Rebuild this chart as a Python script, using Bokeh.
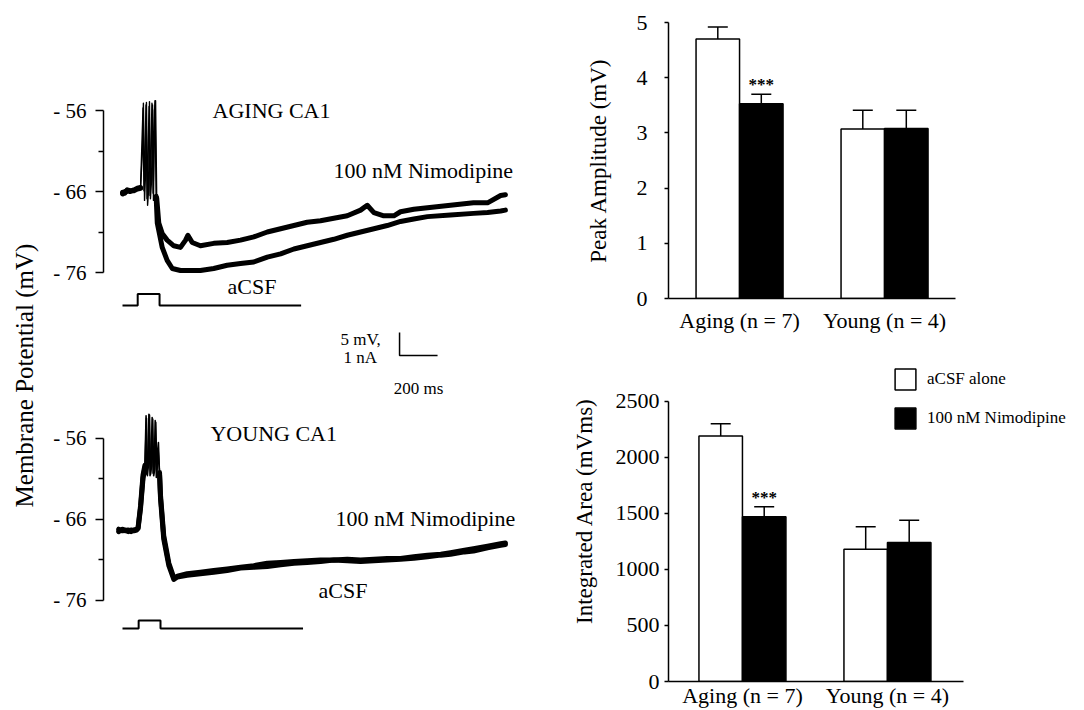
import numpy as np
from bokeh.plotting import figure
from bokeh.layouts import row, column
from bokeh.models import Range1d, FixedTicker, Legend, LegendItem
from bokeh.core.properties import value
from bokeh.embed import file_html
from bokeh.resources import INLINE

FONT = "Liberation Serif"

# ---------------- trace data (time in ms, membrane potential in mV, current in nA) ----------------
# AGING CA1
AGING_PRE_T = [0, 12, 25, 40, 60, 78, 95]
AGING_NIMO_PRE_V = [-66.3, -66.0, -65.9, -66.0, -65.8, -65.6, -65.5]
AGING_ACSF_PRE_V = [-66.1, -66.2, -65.8, -65.9, -65.9, -65.7, -65.6]

AGING_NIMO_SPK_T = [95, 105, 110, 116, 121, 126, 132, 137, 142, 147, 153, 158, 163, 168, 174, 180]
AGING_NIMO_SPK_V = [-65.5, -61.0, -55.1, -67.1, -64.0, -55.0, -67.7, -65.9, -54.9, -66.9, -64.6, -55.3,
                    -67.1, -56.0, -54.8, -66.8]
AGING_ACSF_SPK_T = [95, 108, 113, 124, 129, 140, 145, 155, 161, 171, 177]
AGING_ACSF_SPK_V = [-65.6, -55.7, -65.9, -55.3, -66.9, -55.5, -66.5, -55.1, -66.2, -54.8, -66.6]

AGING_NIMO_POST_T = [180, 191, 209, 235, 270, 305, 332, 344, 367, 410, 480, 551, 621, 691, 762, 832, 902,
                     972, 1042, 1112, 1183, 1253, 1288, 1323, 1375, 1428, 1463, 1533, 1605, 1726, 1847,
                     1921, 1990, 2015]
AGING_NIMO_POST_V = [-66.8, -69.9, -71.2, -72.0, -72.7, -72.9, -72.0, -71.4, -72.3, -72.7, -72.4, -72.3,
                     -72.0, -71.6, -71.0, -70.6, -70.2, -69.8, -69.6, -69.3, -69.0, -68.3, -67.7, -68.6,
                     -69.0, -69.0, -68.5, -68.2, -68.0, -67.7, -67.4, -67.4, -66.5, -66.4]
AGING_ACSF_POST_T = [177, 183, 209, 235, 262, 305, 410, 480, 551, 621, 691, 762, 832, 902, 972, 1042,
                     1112, 1183, 1253, 1323, 1393, 1463, 1533, 1605, 1726, 1847, 1921, 1990, 2015]
AGING_ACSF_POST_V = [-66.6, -69.9, -72.9, -74.5, -75.5, -75.75, -75.75, -75.5, -75.1, -74.9, -74.7,
                     -74.1, -73.7, -73.1, -72.7, -72.3, -71.9, -71.4, -71.0, -70.6, -70.2, -69.7, -69.4,
                     -69.1, -68.9, -68.7, -68.6, -68.4, -68.3]
AGING_CUR_T = [0, 80, 80, 195, 195, 940]
AGING_CUR_I = [0, 0, 0.5, 0.5, 0, 0]

# YOUNG CA1
YOUNG_PRE_T = [-20, 0, 15, 30, 45, 60, 75, 82, 95, 108, 118]
YOUNG_NIMO_PRE_V = [-67.5, -67.2, -67.4, -67.3, -67.5, -67.3, -67.2, -67.0, -64.3, -60.5, -59.3]
YOUNG_ACSF_PRE_V = [-67.2, -67.4, -67.3, -67.5, -67.3, -67.4, -67.3, -67.1, -64.6, -60.9, -59.6]

YOUNG_NIMO_SPK_T = [118, 124, 128, 134, 139, 145, 150, 156, 161, 167, 172, 178, 183, 189, 195]
YOUNG_NIMO_SPK_V = [-59.3, -53.2, -60.4, -59.0, -53.0, -60.6, -59.2, -53.4, -60.3, -59.5, -53.8, -60.8,
                    -58.0, -56.5, -60.5]
YOUNG_ACSF_SPK_T = [118, 126, 131, 137, 142, 148, 153, 159, 164, 170, 175, 181, 187, 195]
YOUNG_ACSF_SPK_V = [-59.6, -53.5, -60.6, -59.2, -53.1, -60.4, -59.4, -53.6, -60.6, -59.8, -54.0, -60.5,
                    -57.2, -60.2]

YOUNG_POST_T = [195, 200, 217, 244, 270, 289, 340, 410, 480, 551, 621, 691, 762, 832, 902, 972, 1042,
                1112, 1183, 1253, 1323, 1393, 1463, 1533, 1605, 1675, 1726, 1800, 1847, 1921, 1990, 2015]
YOUNG_NIMO_POST_V = [-60.5, -63.0, -68.0, -71.4, -73.2, -73.0, -72.7, -72.5, -72.3, -72.1, -71.9, -71.7,
                     -71.4, -71.3, -71.2, -71.1, -71.0, -71.0, -70.9, -71.0, -70.9, -70.8, -70.8, -70.6,
                     -70.4, -70.3, -70.1, -69.8, -69.6, -69.3, -69.0, -68.9]
YOUNG_ACSF_POST_V = [-60.2, -63.4, -68.4, -71.7, -73.4, -73.1, -72.9, -72.7, -72.5, -72.3, -72.0, -71.9,
                     -71.8, -71.6, -71.4, -71.3, -71.2, -71.0, -71.1, -71.2, -71.1, -71.0, -70.9, -70.8,
                     -70.6, -70.4, -70.3, -70.0, -69.9, -69.5, -69.2, -69.1]
YOUNG_CUR_T = [0, 85, 85, 200, 200, 950]
YOUNG_CUR_I = [0, 0, 0.35, 0.35, 0, 0]

TRACE_TICKS = [-76, -66, -56]
TRACE_MINOR = [-71, -61]
TRACE_LABELS = {-56: "- 56", -66: "- 66", -76: "- 76"}

SCALE_T0, SCALE_MS, SCALE_I0, SCALE_NA = 1458, 200, -2.17, 1.0

# ---------------- bar data ----------------
GROUPS = ["Aging (n = 7)", "Young (n = 4)"]
PEAK_ACSF = np.array([4.70, 3.07])
PEAK_ACSF_ERR = np.array([0.22, 0.34])
PEAK_NIMO = np.array([3.53, 3.08])
PEAK_NIMO_ERR = np.array([0.17, 0.33])
AREA_ACSF = np.array([2190, 1180])
AREA_ACSF_ERR = np.array([110, 200])
AREA_NIMO = np.array([1470, 1240])
AREA_NIMO_ERR = np.array([90, 200])
SIG = ["***", ""]
PEAK_TICKS = [0, 1, 2, 3, 4, 5]
AREA_TICKS = [0, 500, 1000, 1500, 2000, 2500]

BAR_W = 0.30
BAR_OFF = 0.15
GX = np.arange(len(GROUPS))


def style_common(p):
    p.outline_line_color = None
    p.grid.visible = False
    p.background_fill_color = "white"
    p.border_fill_color = "white"


def trace_fig(height, yr, cur_range):
    p = figure(width=512, height=height, x_range=Range1d(-100, 2305), y_range=Range1d(*yr),
               x_axis_location=None, output_backend="svg", toolbar_location=None,
               min_border_left=55, min_border_right=0, min_border_top=0, min_border_bottom=0)
    p.extra_y_ranges = {"current": Range1d(*cur_range)}
    style_common(p)
    ax = p.yaxis[0]
    ax.ticker = FixedTicker(ticks=TRACE_TICKS, minor_ticks=TRACE_MINOR)
    ax.bounds = (-76, -56)
    ax.major_label_overrides = TRACE_LABELS
    ax.axis_line_width = 1.5
    ax.axis_line_color = "black"
    ax.major_tick_line_width = 1.5
    ax.minor_tick_line_width = 1.5
    ax.major_tick_out = 8
    ax.major_tick_in = 0
    ax.minor_tick_out = 5
    ax.minor_tick_in = 0
    ax.major_label_standoff = 9
    ax.major_label_text_font = FONT
    ax.major_label_text_font_size = "21px"
    ax.major_label_text_color = "black"
    return p


def add_trace(p, t, v, width):
    p.line(t, v, line_width=width, line_color="black", line_join="round", line_cap="round")


def add_text(p, x, y, s, size, align="left", baseline="middle", y_range_name="default"):
    p.text(x=[x], y=[y], text=[s], text_font=value(FONT), text_font_size=size, text_color="black",
           text_align=align, text_baseline=baseline, y_range_name=y_range_name)


# ---------------- Membrane potential label ----------------
lab = figure(width=48, height=710, x_range=Range1d(-24, 24), y_range=Range1d(-335, 375),
             x_axis_location=None, y_axis_location=None, output_backend="svg", toolbar_location=None,
             min_border=0)
style_common(lab)
lab.text(x=[0], y=[0], text=["Membrane Potential (mV)"], angle=np.pi / 2, text_align="center",
         text_baseline="middle", text_font=value(FONT), text_font_size="25px", text_color="black")

# ---------------- AGING traces ----------------
top = trace_fig(400, (-91.80, -42.42), (-4.130, 13.261))
add_trace(top, AGING_PRE_T, AGING_ACSF_PRE_V, 5)
add_trace(top, AGING_PRE_T, AGING_NIMO_PRE_V, 5)
add_trace(top, AGING_ACSF_SPK_T, AGING_ACSF_SPK_V, 1.4)
add_trace(top, AGING_NIMO_SPK_T, AGING_NIMO_SPK_V, 1.4)
add_trace(top, AGING_ACSF_POST_T, AGING_ACSF_POST_V, 5)
add_trace(top, AGING_NIMO_POST_T, AGING_NIMO_POST_V, 5)
top.line(AGING_CUR_T, AGING_CUR_I, y_range_name="current", line_width=2, line_color="black")
top.line([SCALE_T0, SCALE_T0, SCALE_T0 + SCALE_MS], [SCALE_I0 + SCALE_NA, SCALE_I0, SCALE_I0],
         y_range_name="current", line_width=1.5, line_color="black")
add_text(top, 474, -56.0, "AGING CA1", "22px")
add_text(top, 1110, -63.4, "100 nM Nimodipine", "22px")
add_text(top, 553, -77.7, "aCSF", "22px")
add_text(top, 1147, -1.48, "5 mV,", "17px", y_range_name="current")
add_text(top, 1163, -2.26, "1 nA", "17px", y_range_name="current")
add_text(top, 1558, -3.61, "200 ms", "17px", align="center", y_range_name="current")

# ---------------- YOUNG traces ----------------
bot = trace_fig(310, (-89.58, -51.31), (-3.565, 9.913))
add_trace(bot, YOUNG_PRE_T, YOUNG_ACSF_PRE_V, 5)
add_trace(bot, YOUNG_PRE_T, YOUNG_NIMO_PRE_V, 5)
add_trace(bot, YOUNG_ACSF_SPK_T, YOUNG_ACSF_SPK_V, 1.6)
add_trace(bot, YOUNG_NIMO_SPK_T, YOUNG_NIMO_SPK_V, 1.6)
add_trace(bot, YOUNG_POST_T, YOUNG_ACSF_POST_V, 5)
add_trace(bot, YOUNG_POST_T, YOUNG_NIMO_POST_V, 5)
bot.line(YOUNG_CUR_T, YOUNG_CUR_I, y_range_name="current", line_width=2, line_color="black")
add_text(bot, 463, -55.4, "YOUNG CA1", "22px")
add_text(bot, 1121, -65.9, "100 nM Nimodipine", "22px")
add_text(bot, 1032, -74.8, "aCSF", "22px")


# ---------------- bar charts ----------------
def bar_fig(height, xr, yr, ticks, mb_top, mb_bottom, label, tick_standoff, label_standoff,
            x_standoff, x_bounds, y_bounds):
    p = figure(width=524, height=height, x_range=Range1d(*xr), y_range=Range1d(*yr),
               output_backend="svg", toolbar_location=None,
               min_border_left=108, min_border_right=0, min_border_top=mb_top,
               min_border_bottom=mb_bottom)
    style_common(p)
    for ax in (p.xaxis[0], p.yaxis[0]):
        ax.axis_line_width = 1.5
        ax.axis_line_color = "black"
        ax.major_label_text_font = FONT
        ax.major_label_text_color = "black"
        ax.minor_tick_line_color = None
    ya = p.yaxis[0]
    ya.ticker = FixedTicker(ticks=ticks)
    ya.bounds = y_bounds
    ya.major_tick_out = 4
    ya.major_tick_in = 0
    ya.major_tick_line_width = 1.5
    ya.major_label_standoff = tick_standoff
    ya.major_label_text_font_size = "22px"
    ya.axis_label = label
    ya.axis_label_text_font = FONT
    ya.axis_label_text_font_size = "23px"
    ya.axis_label_text_font_style = "normal"
    ya.axis_label_text_color = "black"
    ya.axis_label_standoff = label_standoff
    xa = p.xaxis[0]
    xa.ticker = FixedTicker(ticks=list(GX))
    xa.bounds = x_bounds
    xa.major_label_overrides = {int(i): g for i, g in zip(GX, GROUPS)}
    xa.major_tick_line_color = None
    xa.major_tick_out = 0
    xa.major_tick_in = 0
    xa.major_label_standoff = x_standoff
    xa.major_label_text_font_size = "22px"
    return p


def add_bars(p, acsf, acsf_err, nimo, nimo_err, star_size):
    xa = GX - BAR_OFF
    xn = GX + BAR_OFF
    r1 = p.vbar(x=xa, top=acsf, width=BAR_W, bottom=0, fill_color="white", line_color="black",
                line_width=1.5)
    r2 = p.vbar(x=xn, top=nimo, width=BAR_W, bottom=0, fill_color="black", line_color="black",
                line_width=1.5)
    for xs, v, e in ((xa, acsf, acsf_err), (xn, nimo, nimo_err)):
        p.segment(x0=xs, y0=v, x1=xs, y1=v + e, line_width=1.5, line_color="black")
        p.scatter(x=xs, y=v + e, marker="dash", size=20, line_width=1.5, line_color="black")
    p.text(x=xn, y=nimo + nimo_err, text=SIG, text_font=value(FONT), text_font_size=star_size,
           text_font_style="bold", text_color="black", text_align="center", text_baseline="bottom")
    return r1, r2


bar1 = bar_fig(340, (-0.49, 2.379), (0, 5), PEAK_TICKS, 22, 42, "Peak Amplitude (mV)", 17, 23, 9,
               (-0.49, 1.49), (0, 5))
add_bars(bar1, PEAK_ACSF, PEAK_ACSF_ERR, PEAK_NIMO, PEAK_NIMO_ERR, "17px")

bar2 = bar_fig(370, (-0.510, 2.359), (0, 3043), AREA_TICKS, 0, 28, "Integrated Area (mVms)", 5, 16, 1,
               (-0.510, 1.524), (0, 2500))
ra, rn = add_bars(bar2, AREA_ACSF, AREA_ACSF_ERR, AREA_NIMO, AREA_NIMO_ERR, "17px")
legend = Legend(items=[LegendItem(label="aCSF alone", renderers=[ra]),
                       LegendItem(label="100 nM Nimodipine", renderers=[rn])],
                location=(224, 250), orientation="vertical", glyph_width=26, glyph_height=26,
                label_height=26, label_width=60, spacing=13, padding=0, margin=0, label_standoff=9,
                label_text_font=FONT, label_text_font_size="17px", label_text_color="black",
                label_text_baseline="middle", border_line_color=None, background_fill_alpha=0)
bar2.add_layout(legend)

layout = row(lab, column(top, bot), column(bar1, bar2))
open("out.html", "w").write(file_html(layout, INLINE))
